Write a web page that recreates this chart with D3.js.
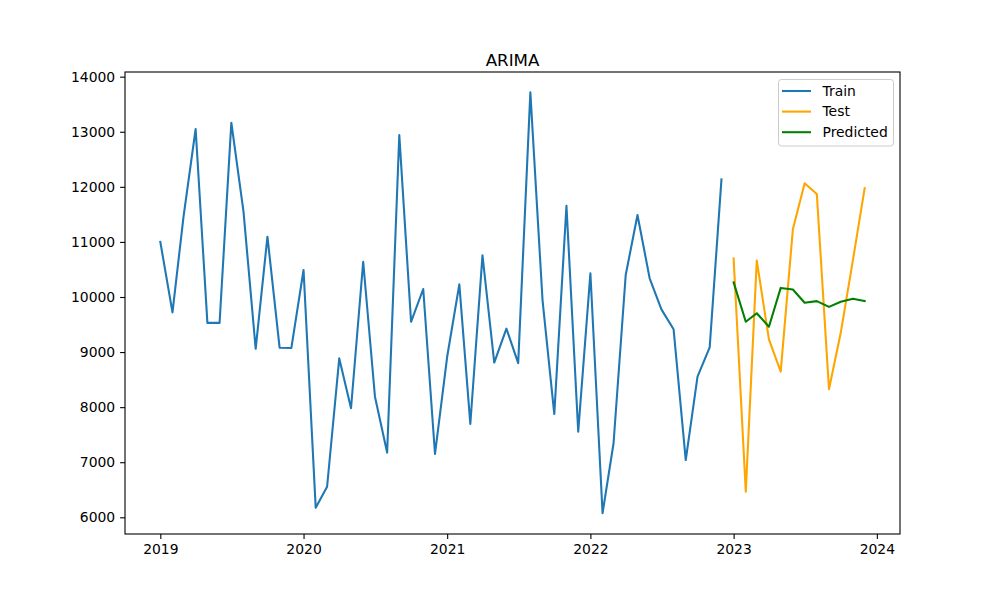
<html>
<script src="https://d3js.org/d3.v7.min.js"></script>
<style>
  body { margin: 0; background: white; }
  text { font-family: "DejaVu Sans", sans-serif; fill: black; }
</style>
<body onload="init()">
<svg width="1000" height="600"></svg>
<script>
// monthly values
var trainStart = [2019, 0];
var trainValues = [11000, 9720, 11450, 13050, 9530, 9530, 13165, 11550, 9060, 11095, 9080, 9075,
                   10490, 6175, 6555, 8885, 7980, 10640, 8190, 7175, 12940, 9550, 10145, 7150,
                   8915, 10230, 7695, 10755, 8810, 9425, 8800, 13715, 9945, 7875, 11655, 7555,
                   10430, 6075, 7345, 10400, 11490, 10340, 9775, 9415, 7040, 8555, 9085, 12135];
var testStart = [2023, 0];
var testValues = [10700, 6465, 10660, 9230, 8645, 11230, 12065, 11870, 8325, 9350, 10670, 11975];
var predValues = [10265, 9550, 9705, 9460, 10165, 10135, 9895, 9925, 9820, 9915, 9970, 9925];

var seriesNames = ["Train", "Test", "Predicted"];
var seriesColors = ["#1f77b4", "orange", "green"];
var yTicks = [6000, 7000, 8000, 9000, 10000, 11000, 12000, 13000, 14000];
var xTickYears = [2019, 2020, 2021, 2022, 2023, 2024];
var chartTitle = "ARIMA";

function toPoints(start, vals) {
  return vals.map(function(v, i) { return { date: new Date(start[0], start[1] + i, 1), value: v }; });
}

function init() {
  var left = 125, right = 900, top = 72, bottom = 534;
  var svg = d3.select("svg");

  var series = [toPoints(trainStart, trainValues), toPoints(testStart, testValues), toPoints(testStart, predValues)];

  var x = d3.scaleTime()
      .domain([new Date(2018, 9, 3), new Date(2024, 1, 29)])
      .range([left, right]);
  var y = d3.scaleLinear().domain([5697, 14085]).range([bottom, top]);

  var line = d3.line().x(function(d) { return x(d.date); }).y(function(d) { return y(d.value); });

  svg.selectAll("path.series").data(series).enter().append("path")
     .attr("class", "series")
     .attr("d", line)
     .attr("fill", "none")
     .attr("stroke", function(d, i) { return seriesColors[i]; })
     .attr("stroke-width", 2.08)
     .attr("stroke-linejoin", "round")
     .attr("stroke-linecap", "square");

  var ax = svg.append("g").attr("transform", "translate(0," + bottom + ")")
     .call(d3.axisBottom(x).tickValues(xTickYears.map(function(yr) { return new Date(yr, 0, 1); }))
       .tickFormat(d3.timeFormat("%Y")).tickSize(4.9).tickPadding(4.9));
  var ay = svg.append("g").attr("transform", "translate(" + left + ",0)")
     .call(d3.axisLeft(y).tickValues(yTicks).tickFormat(d3.format("d")).tickSize(4.9).tickPadding(4.9));
  [ax, ay].forEach(function(a) {
    a.select(".domain").remove();
    a.selectAll("line").attr("stroke", "black").attr("stroke-width", 1.1);
    a.selectAll("text").attr("font-size", "13.9px").attr("font-family", "DejaVu Sans").attr("fill", "black");
  });

  svg.append("rect").attr("x", left).attr("y", top)
     .attr("width", right - left).attr("height", bottom - top)
     .attr("fill", "none").attr("stroke", "black").attr("stroke-width", 1.1);

  svg.append("text").attr("x", (left + right) / 2).attr("y", top - 6)
     .attr("text-anchor", "middle").attr("font-size", "16.7px").text(chartTitle);

  // legend
  var lg = svg.append("g");
  lg.append("rect").attr("x", 778.5).attr("y", 79.5).attr("width", 115).attr("height", 66.5)
    .attr("rx", 3).attr("fill", "white").attr("fill-opacity", 0.8)
    .attr("stroke", "#cccccc").attr("stroke-width", 1);
  seriesNames.forEach(function(n, i) {
    var yy = 91 + i * 20.6;
    lg.append("line").attr("x1", 782).attr("x2", 811).attr("y1", yy).attr("y2", yy)
      .attr("stroke", seriesColors[i]).attr("stroke-width", 2.08);
    lg.append("text").attr("x", 822.5).attr("y", yy).attr("dy", "0.35em")
      .attr("font-size", "13.9px").text(n);
  });
}
</script>
</body>
</html>
